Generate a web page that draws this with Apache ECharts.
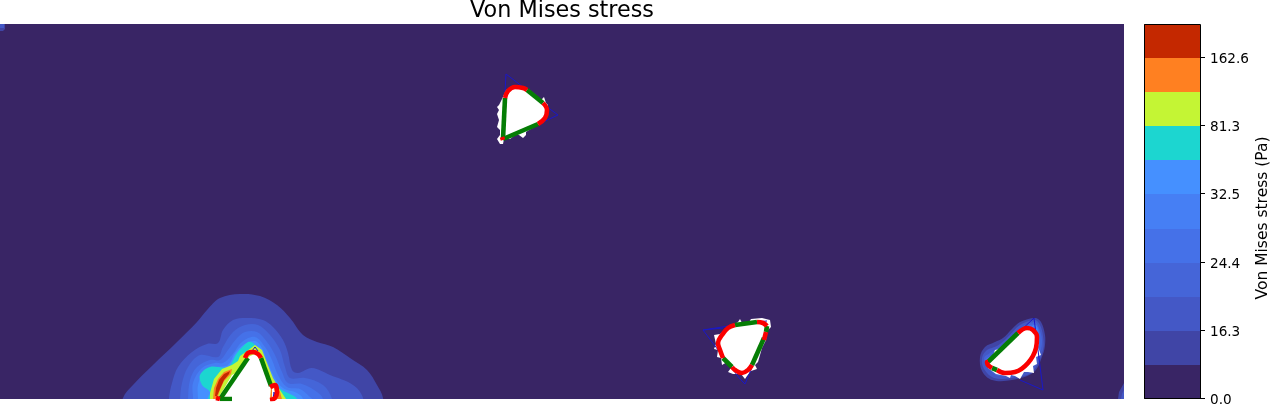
<!DOCTYPE html>
<html>
<head>
<meta charset="utf-8">
<style>html,body{margin:0;padding:0;background:#fff}#c{width:1273px;height:407px}</style>
<script src="https://cdn.jsdelivr.net/npm/echarts@6/dist/echarts.min.js"></script>
</head>
<body>
<div id="c"></div>
<script>
// Colour bar
var bandColors = ['#392565','#4045a6','#4458c6','#4565d8','#4571e8','#467ff4','#4590ff','#1cd6d0','#c4f534','#ff8021','#c42800'];
var tickBands = [0, 2, 4, 6, 8, 10];
var tickLabels = ['0.0', '16.3', '24.4', '32.5', '81.3', '162.6'];

// Contours: [x, y] in plot units, band is the index of the stress band
var lowerLeftBand1 = [[116,430],[123,398],[133,385],[153,365],[177,342],[197,322],[207,310],[220,298],[240,294],[260,296],[277,305],[290,318],[303,335],[317,342],[333,347],[350,358],[367,370],[377,385],[383,398],[385,430]];
var lowerLeftBand2 = [[167,430],[169,398],[172,383],[178,367],[192,352],[207,344],[218,343],[223,330],[233,320],[247,318],[263,320],[273,327],[283,340],[288,353],[292,370],[298,373],[312,368],[330,375],[353,385],[363,398],[365,430]];
var lowerLeftBand3 = [[178,430],[180,399],[182,383],[188,367],[200,355],[218,357],[223,347],[233,332],[245,325],[258,325],[270,335],[280,350],[285,367],[290,378],[305,378],[323,385],[332,399],[336,430]];
var lowerLeftBand4 = [[186,430],[188,399],[190,380],[197,367],[210,360],[220,360],[228,350],[237,338],[245,332],[257,332],[267,342],[275,355],[282,372],[288,383],[302,384],[317,392],[323,399],[326,430]];
var lowerLeftBand5 = [[192,430],[193,399],[193,383],[202,368],[215,363],[223,363],[232,355],[242,342],[255,337],[265,347],[272,360],[278,375],[287,387],[300,389],[310,397],[312,399],[315,430]];
var lowerLeftBand6 = [[197,430],[198,399],[198,385],[205,370],[217,367],[228,365],[235,353],[243,345],[255,341],[262,348],[268,363],[275,378],[283,388],[297,393],[303,399],[306,430]];
var lowerLeftBand7 = [[207,430],[208,399],[210,392],[202,385],[200,375],[210,367],[228,367],[237,353],[248,342],[253,343],[260,352],[265,365],[273,382],[282,390],[292,395],[297,399],[300,430]];
var lowerLeftBand8 = [[210,430],[210,393],[214,379],[222,369],[232,365],[238,361],[240,356],[247,351],[255,345],[262,350],[267,363],[273,378],[280,390],[286,399],[288,430]];
var lowerLeftOrangeA = [[232,369],[224,372],[218,379],[214,388],[213,399],[217,399],[220,390],[224,381],[231,374]];
var lowerLeftRedA = [[230,371],[224,374],[219,380],[216,388],[215,396],[217,396],[220,389],[224,380],[229,374]];
var lowerLeftOrangeB = [[271,384],[276,384],[280,392],[282,399],[270,399]];
var lowerLeftInnerB = [[272,389],[274,388],[275,392],[274,399],[272,399]];
var lowerLeftHole = [[217,399],[222,392],[232,375],[238,372],[243,364],[248,358],[250,356],[255,354],[260,358],[263,366],[266,365],[267,372],[271,386],[270,399]];
var cornerTopLeftBand1 = [[0,24],[5,24],[5,29],[3,31],[0,31]];
var cornerTopLeftBand2 = [[0,24],[4,24],[4,28],[0,28]];
var cornerRightBand1 = [[1124,383],[1119,392],[1118,399],[1124,399]];
var cornerRightBand2 = [[1124,390],[1122,394],[1121,399],[1124,399]];
var haloBand1 = [[980,357],[985,347],[995,342],[1003,338],[1012,329],[1020,322],[1035,318],[1041,322],[1045,335],[1045,345],[1043,354],[1034,372],[1012,380],[992,380],[982,371]];
var haloBand2 = [[982,358],[987,350],[997,346],[1007,338],[1020,325],[1035,320],[1040,325],[1043,336],[1043,350],[1032,372],[1012,378],[994,378],[984,369]];
var haloBand3 = [[984,358],[990,353],[1002,345],[1022,327],[1035,322],[1039,328],[1042,340],[1040,352],[1030,368],[1000,376],[988,368]];
var haloBand4 = [[985,360],[992,355],[1010,340],[1030,325],[1037,326],[1040,340],[1036,355],[1020,370],[998,373],[988,367]];
var haloBand5 = [[1030,328],[1036,325],[1039,338],[1036,350],[1030,340]];
var topHole = [[497,107],[499,105],[502,99],[506,90],[515,87],[530,90],[541,100],[544,97],[546,103],[548,105],[547,113],[546,119],[538,125],[529,130],[526,132],[526,135],[523,138],[519,135],[515,135],[510,139],[504,139],[503,144],[500,144],[497,139],[500,135],[500,130],[497,127],[499,120],[497,114],[499,110]];
var middleHole = [[728,328],[738,322],[740,319],[742,323],[749,322],[751,319],[762,318],[770,320],[771,327],[767,331],[766,340],[762,348],[760,355],[758,362],[755,365],[757,369],[751,371],[747,376],[745,379],[741,374],[737,374],[733,374],[728,372],[731,368],[727,362],[722,365],[721,358],[717,357],[718,350],[714,349],[716,344],[714,335],[720,334]];
var rightHole = [[988,362],[992,358],[995,350],[1000,349],[1018,333],[1028,328],[1036,332],[1039,340],[1038,347],[1041,355],[1036,357],[1037,364],[1033,366],[1034,373],[1028,372],[1024,372],[1020,379],[1015,376],[1011,375],[1010,378],[1006,376],[996,374],[988,368]];

// Edge segments drawn on top of the field
var meshLines = [
  [[505,92],[506,74],[527,90]],
  [[543,104],[558,115],[541,123]],
  [[723,328],[703,330],[735,325]],
  [[703,330],[740,379],[745,384],[753,365]],
  [[755,322],[767,321]],
  [[1018,333],[1034,318],[1043,390],[1020,380]],
  [[252,351],[255,347],[258,351]],
  [[273,399],[274,392],[276,399]]
];
var greenLines = [
  [[503,139],[505,98]],
  [[527,90],[543,103]],
  [[538,124],[503,139]],
  [[735,325],[757,322]],
  [[767,326],[766,332]],
  [[764,338],[752,365]],
  [[732,367],[723,358]],
  [[988,362],[1018,333]],
  [[997,370],[992,368]],
  [[220,399],[248,358]],
  [[261,358],[271,386]],
  [[220,399],[232,399]]
];
var redLines = [
  [[505,98],[508,91],[515,87],[523,88],[527,90]],
  [[543,103],[547,110],[545,118],[538,124]],
  [[723,358],[720,350],[718,343],[722,335],[728,328],[735,325]],
  [[757,322],[763,323],[767,326]],
  [[766,332],[764,340]],
  [[752,365],[748,370],[742,373],[735,370],[732,367]],
  [[1018,333],[1027,328],[1033,330],[1037,337],[1036,348],[1028,363],[1015,372],[1005,373],[997,370]],
  [[992,368],[988,365],[987,362],[988,362]],
  [[245,358],[248,353],[253,352],[258,354],[261,358]],
  [[270,387],[275,385],[277,392],[275,398],[270,400]],
  [[216,398],[220,399]],
  [[502,137],[503,140]]
];

var smoothShapes = [
  [lowerLeftBand1,1],[lowerLeftBand2,2],[lowerLeftBand3,3],[lowerLeftBand4,4],[lowerLeftBand5,5],[lowerLeftBand6,6],[lowerLeftBand7,7],
  [haloBand1,1],[haloBand2,2],[haloBand3,3],[haloBand4,4],[haloBand5,5]
];
var sharpShapes = [
  [lowerLeftBand8,8],[lowerLeftOrangeA,9],[lowerLeftRedA,10],[lowerLeftOrangeB,9],
  [cornerTopLeftBand1,1],[cornerTopLeftBand2,2],[cornerRightBand1,1],[cornerRightBand2,2]
];
var holes = [lowerLeftHole, lowerLeftInnerB, topHole, middleHole, rightHole];

function polygonSeries(points, fill, smooth) {
  return {
    type: 'custom', xAxisIndex: 0, yAxisIndex: 0, clip: true, silent: true,
    data: points,
    renderItem: function (params, api) {
      if (params.dataIndex !== 0) return null;
      return {
        type: 'polygon',
        shape: { points: points.map(function (p) { return api.coord(p); }), smooth: smooth },
        style: { fill: fill }
      };
    }
  };
}
function lineSeries(points, color, width, smooth) {
  return {
    type: 'line', xAxisIndex: 0, yAxisIndex: 0, data: points, showSymbol: false, clip: true, silent: true,
    smooth: smooth,
    lineStyle: { color: color, width: width, cap: 'butt', join: 'round' }
  };
}

var series = [];
smoothShapes.forEach(function (s) { series.push(polygonSeries(s[0], bandColors[s[1]], 0.35)); });
sharpShapes.forEach(function (s) { series.push(polygonSeries(s[0], bandColors[s[1]], 0)); });
meshLines.forEach(function (l) { series.push(lineSeries(l, '#1a18c8', 1, false)); });
holes.forEach(function (h) { series.push(polygonSeries(h, '#ffffff', 0)); });
greenLines.forEach(function (l) { series.push(lineSeries(l, '#057d05', 4.6, false)); });
redLines.forEach(function (l) { series.push(lineSeries(l, '#fa0000', 4.6, 0.4)); });

// Colour bar bands, ticks, then its frame
series.push({
  type: 'custom', xAxisIndex: 1, yAxisIndex: 1, silent: true,
  data: bandColors.map(function (c, i) { return [i]; }),
  renderItem: function (params, api) {
    var i = api.value(0), a = api.coord([0, i]), b = api.coord([1, i + 1]);
    var top = Math.round(b[1]), bottom = Math.round(a[1]);
    return { type: 'rect', shape: { x: a[0], y: top, width: b[0] - a[0], height: bottom - top },
      style: { fill: bandColors[i] } };
  }
});
series.push({
  type: 'custom', xAxisIndex: 1, yAxisIndex: 1, silent: true, z: 5,
  data: tickBands.map(function (b) { return [b]; }),
  renderItem: function (params, api) {
    var p = api.coord([1, api.value(0)]), y = Math.round(p[1]) - 0.5;
    return {
      type: 'group', children: [
        { type: 'line', shape: { x1: p[0], y1: y, x2: p[0] + 5, y2: y }, style: { stroke: '#000', lineWidth: 1 } },
        { type: 'text', x: p[0] + 10, y: y + 2, style: {
            text: tickLabels[params.dataIndex], fontFamily: 'DejaVu Sans', fontSize: 13.6, fill: '#000',
            align: 'left', verticalAlign: 'middle' } }
      ]
    };
  }
});
series.push({
  type: 'custom', xAxisIndex: 1, yAxisIndex: 1, silent: true, z: 5,
  data: [[0]],
  renderItem: function (params, api) {
    var a = api.coord([0, 0]), b = api.coord([1, bandColors.length]);
    return { type: 'rect', shape: { x: a[0] + 0.5, y: b[1] + 0.5, width: b[0] - a[0], height: a[1] - b[1] - 1 },
      style: { fill: null, stroke: '#000', lineWidth: 1 } };
  }
});

var chart = echarts.init(document.getElementById('c'), null, { renderer: 'canvas' });
chart.setOption({
  animation: false,
  backgroundColor: '#ffffff',
  title: {
    text: 'Von Mises stress', left: 557, top: -5, textAlign: 'center',
    textStyle: { fontFamily: 'DejaVu Sans', fontSize: 22.3, fontWeight: 'normal', color: '#000' }
  },
  graphic: [{
    type: 'text', x: 1263, y: 218, rotation: Math.PI / 2,
    style: { text: 'Von Mises stress (Pa)', fontFamily: 'DejaVu Sans', fontSize: 15.5, fill: '#000', align: 'center', verticalAlign: 'middle' }
  }],
  grid: [
    { left: 0, top: 24, width: 1124, height: 375, show: true, backgroundColor: bandColors[0], borderWidth: 0 },
    { left: 1144, top: 24, width: 56, height: 375, show: false }
  ],
  xAxis: [
    { gridIndex: 0, type: 'value', min: 0, max: 1124, show: false },
    { gridIndex: 1, type: 'value', min: 0, max: 1, show: false }
  ],
  yAxis: [
    { gridIndex: 0, type: 'value', min: 24, max: 399, inverse: true, show: false },
    { gridIndex: 1, type: 'value', min: 0, max: bandColors.length, show: false }
  ],
  series: series
});
</script>
</body>
</html>
